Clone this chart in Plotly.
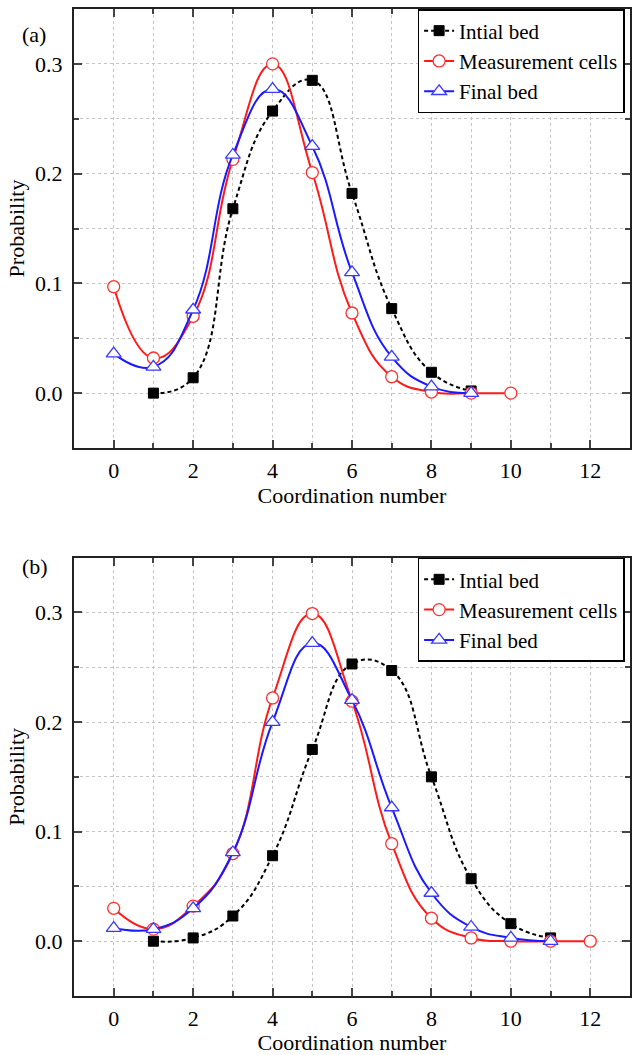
import plotly.graph_objects as go

# ---------------- data ----------------
# panel (a)
a_init_x = [1, 2, 3, 4, 5, 6, 7, 8, 9]
a_init_y = [0.000, 0.014, 0.168, 0.257, 0.285, 0.182, 0.077, 0.019, 0.002]
a_meas_x = [0, 1, 2, 3, 4, 5, 6, 7, 8, 9, 10]
a_meas_y = [0.097, 0.032, 0.070, 0.213, 0.300, 0.201, 0.073, 0.015, 0.001, 0.000, 0.000]
a_final_x = [0, 1, 2, 3, 4, 5, 6, 7, 8, 9]
a_final_y = [0.036, 0.024, 0.076, 0.217, 0.277, 0.225, 0.110, 0.033, 0.006, 0.000]

# panel (b)
b_init_x = [1, 2, 3, 4, 5, 6, 7, 8, 9, 10, 11]
b_init_y = [0.000, 0.003, 0.023, 0.078, 0.175, 0.253, 0.247, 0.150, 0.057, 0.016, 0.003]
b_meas_x = [0, 1, 2, 3, 4, 5, 6, 7, 8, 9, 10, 11, 12]
b_meas_y = [0.030, 0.011, 0.032, 0.080, 0.222, 0.299, 0.219, 0.089, 0.021, 0.003, 0.000, 0.000, 0.000]
b_final_x = [0, 1, 2, 3, 4, 5, 6, 7, 8, 9, 10, 11]
b_final_y = [0.012, 0.011, 0.030, 0.081, 0.200, 0.272, 0.220, 0.122, 0.044, 0.013, 0.003, 0.000]

names = ["Intial bed", "Measurement cells", "Final bed"]
x_ticks = [0, 2, 4, 6, 8, 10, 12]
y_ticks = [0.0, 0.1, 0.2, 0.3]
y_tick_text = ["0.0", "0.1", "0.2", "0.3"]

FONT = "Liberation Serif, Times New Roman, serif"

fig = go.Figure()

def add_panel(xs, ys, xaxis, yaxis, legend, show):
    styles = [
        dict(line=dict(color="black", width=2, dash="4px,3px", shape="spline", smoothing=1.3),
             marker=dict(symbol="square", size=10, color="black", line=dict(color="black", width=1))),
        dict(line=dict(color="#ff1a1a", width=2, shape="spline", smoothing=1.3),
             marker=dict(symbol="circle", size=12, color="white", line=dict(color="#ff3030", width=1.3))),
        dict(line=dict(color="#1a1aff", width=2, shape="spline", smoothing=1.3),
             marker=dict(symbol="triangle-up", size=13, color="white", line=dict(color="#3a3aff", width=1.3))),
    ]
    for (x, y), nm, st in zip(zip(xs, ys), names, styles):
        fig.add_trace(go.Scatter(x=x, y=y, name=nm, mode="lines+markers",
                                 xaxis=xaxis, yaxis=yaxis, legend=legend,
                                 showlegend=show, cliponaxis=True, **st))

add_panel([a_init_x, a_meas_x, a_final_x], [a_init_y, a_meas_y, a_final_y], "x", "y", "legend", True)
add_panel([b_init_x, b_meas_x, b_final_x], [b_init_y, b_meas_y, b_final_y], "x2", "y2", "legend2", True)

grid = "#c4c4c4"
xax = dict(range=[-1, 13], tickmode="array", tickvals=x_ticks, ticks="inside", ticklen=8, tickwidth=2,
           showline=True, linecolor="#222", linewidth=2, mirror="allticks",
           showgrid=True, gridcolor=grid, griddash="dot", gridwidth=1, zeroline=False,
           minor=dict(dtick=1, tick0=0, ticks="inside", ticklen=5, tickwidth=2, showgrid=True,
                      gridcolor=grid, griddash="dot", gridwidth=1),
           tickfont=dict(family=FONT, size=22, color="black"), ticklabelstandoff=2,
           title=dict(text="Coordination number", font=dict(family=FONT, size=22, color="black"), standoff=0))
yax = dict(range=[-0.05, 0.35], tickmode="array", tickvals=y_ticks, ticktext=y_tick_text,
           ticks="inside", ticklen=8, tickwidth=2,
           showline=True, linecolor="#222", linewidth=2, mirror="allticks",
           showgrid=True, gridcolor=grid, griddash="dot", gridwidth=1, zeroline=False,
           minor=dict(dtick=0.05, tick0=0, ticks="inside", ticklen=5, tickwidth=2, showgrid=True,
                      gridcolor=grid, griddash="dot", gridwidth=1),
           tickfont=dict(family=FONT, size=22, color="black"), ticklabelstandoff=5,
           title=dict(text="Probability", font=dict(family=FONT, size=22, color="black"), standoff=4))

dom_a = [0.5552, 1.0]
dom_b = [0.0, 0.4441]
leg = dict(xanchor="left", yanchor="top", bgcolor="white",
           bordercolor="black", borderwidth=1.5, font=dict(family=FONT, size=21, color="black"),
           tracegroupgap=0, itemwidth=30)
fig.update_layout(
    width=633, height=1055,
    margin=dict(l=74, r=1, t=9, b=59),
    paper_bgcolor="white", plot_bgcolor="white",
    xaxis=dict(xax, domain=[0, 1], anchor="y"),
    yaxis=dict(yax, domain=dom_a, anchor="x"),
    xaxis2=dict(xax, domain=[0, 1], anchor="y2"),
    yaxis2=dict(yax, domain=dom_b, anchor="x2"),
    legend=dict(leg, x=0.618, y=1.0),
    legend2=dict(leg, x=0.618, y=0.4441),
    annotations=[
        dict(text="(a)", xref="paper", yref="paper", x=-0.097, y=0.989, showarrow=False,
             font=dict(family=FONT, size=22, color="black")),
        dict(text="(b)", xref="paper", yref="paper", x=-0.097, y=0.4347, showarrow=False,
             font=dict(family=FONT, size=22, color="black")),
    ],
)

fig.write_html("out.html")
